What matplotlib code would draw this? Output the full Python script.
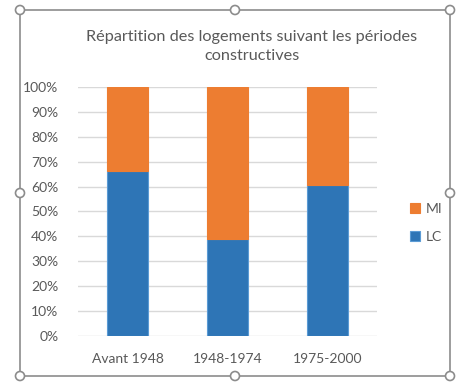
import matplotlib.pyplot as plt
from matplotlib.patches import Rectangle, Circle
from matplotlib.ticker import PercentFormatter

plt.rcParams['font.family'] = ['Lato', 'DejaVu Sans']

categories = ['Avant 1948', '1948-1974', '1975-2000']
lc = [66.3, 39.0, 60.6]
mi = [100 - v for v in lc]

grey = '#595959'
blue = '#2E75B6'
orange = '#ED7D31'

fig = plt.figure(figsize=(4.65, 3.91), dpi=100)
ax = fig.add_axes([0.1677, 0.1407, 0.8108 - 0.1677, 0.7775 - 0.1407])

x = range(len(categories))
ax.bar(x, lc, width=0.41, color=blue, edgecolor='#5B9BD5', linewidth=0.8, label='LC', zorder=3)
ax.bar(x, mi, width=0.41, bottom=lc, color=orange, edgecolor=orange, linewidth=0.8, label='MI', zorder=3)

ax.set_xlim(-0.5, 2.5)
ax.set_ylim(0, 100)
ax.set_yticks(range(0, 101, 10))
ax.yaxis.set_major_formatter(PercentFormatter(decimals=0))
ax.set_xticks(list(x))
ax.set_xticklabels(categories)
ax.grid(axis='y', color='#d9d9d9', linewidth=1, zorder=0)
ax.tick_params(length=0, colors=grey, labelsize=10)
ax.tick_params(axis='y', pad=14)
ax.tick_params(axis='x', pad=12)
for s in ax.spines.values():
    s.set_visible(False)

fig.text(0.542, 0.88, 'Répartition des logements suivant les périodes\nconstructives',
         ha='center', va='center', color=grey, fontsize=11.7, linespacing=1.45)

# legend (MI above LC, like Excel)
h, l = ax.get_legend_handles_labels()
fig.legend(h[::-1], l[::-1], loc='center left', bbox_to_anchor=(0.855, 0.43),
           frameon=False, fontsize=10, labelcolor=grey, handlelength=0.7,
           handleheight=0.7, handletextpad=0.4, labelspacing=1.2)

# chart frame with selection handles
W, H = 465, 391
x0, y0, x1, y1 = 20 / W, 1 - 10 / H, 450 / W, 1 - 376 / H
fig.patches.append(Rectangle((x0, y1), x1 - x0, y0 - y1, transform=fig.transFigure,
                             fill=False, edgecolor='#8c8c8c', linewidth=1.2))
for hx in (x0, (x0 + x1) / 2, x1):
    for hy in (y1, (y0 + y1) / 2, y0):
        if hx == (x0 + x1) / 2 and hy == (y0 + y1) / 2:
            continue
        fig.patches.append(Circle((hx * W, hy * H), 4.5, transform=None,
                                  facecolor='white', edgecolor='#8c8c8c', linewidth=1.2))

fig.savefig('out.png', dpi=100)
